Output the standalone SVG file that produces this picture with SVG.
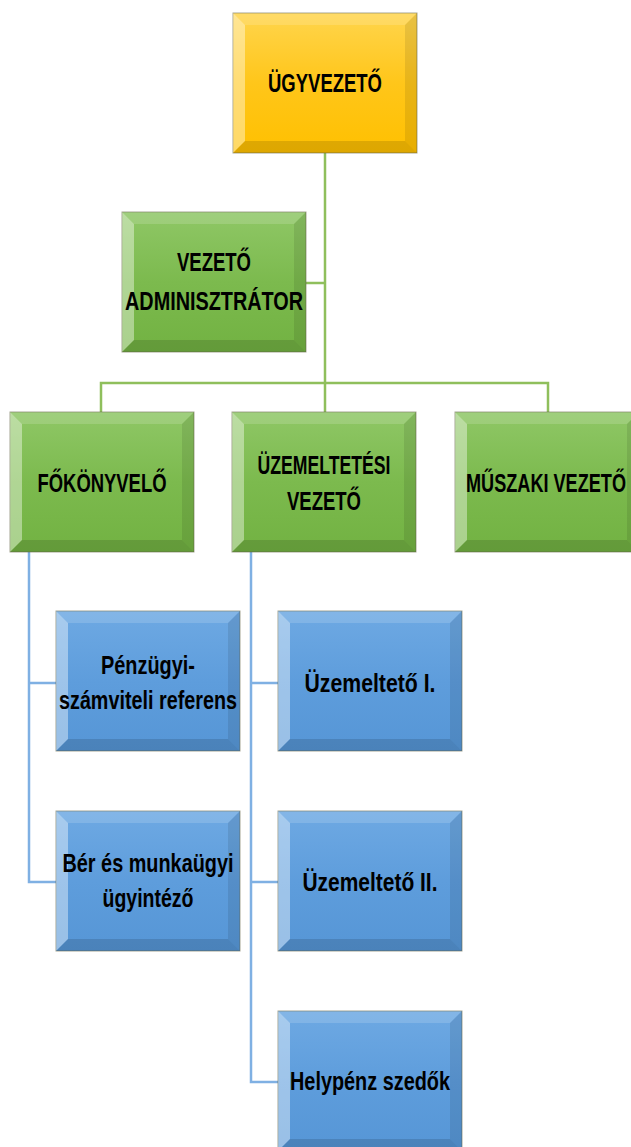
<svg xmlns="http://www.w3.org/2000/svg" xmlns:xlink="http://www.w3.org/1999/xlink" width="631" height="1147" viewBox="0 0 631 1147">
<style>
.t{font-family:"Liberation Sans Narrow","Liberation Sans",Arial,sans-serif;font-weight:bold;font-size:26px;fill:#000;text-anchor:middle}
.edge{fill:none;stroke-width:2.5}
.g{stroke:#8fbf5c}
.b{stroke:#7fb0e3}
.box{stroke:#6b6b4f;stroke-width:1;stroke-opacity:.6}
.y{fill:url(#gy)}
.gr{fill:url(#gg)}
.bl{fill:url(#gb)}
</style>
<defs>
<linearGradient id="gy" x1="0" y1="0" x2="0" y2="1"><stop offset="0" stop-color="#ffd54d"/><stop offset="0.5" stop-color="#ffc61a"/><stop offset="1" stop-color="#ffc000"/></linearGradient>
<linearGradient id="gg" x1="0" y1="0" x2="0" y2="1"><stop offset="0" stop-color="#8fc766"/><stop offset="0.5" stop-color="#7cba4e"/><stop offset="1" stop-color="#72b242"/></linearGradient>
<linearGradient id="gb" x1="0" y1="0" x2="0" y2="1"><stop offset="0" stop-color="#6ea9e3"/><stop offset="0.5" stop-color="#5e9ddc"/><stop offset="1" stop-color="#5696d6"/></linearGradient>
<g id="bevel">
<polygon points="0,0 184,0 172,12 12,12" fill="#fff" fill-opacity="0.15"/>
<polygon points="0,0 12,12 12,128 0,140" fill="#fff" fill-opacity="0.4"/>
<polygon points="184,0 184,140 172,128 172,12" fill="#000" fill-opacity="0.09"/>
<polygon points="0,140 12,128 172,128 184,140" fill="#000" fill-opacity="0.13"/>
</g>
</defs>
<rect width="631" height="1147" fill="#fff"/>
<g id="connectors">
<path class="edge g" d="M325 152V383M305 283H325M101 412V383H548V412M325 383V412"/>
<path class="edge b" d="M29 552V882H57M29 683H57M251 552V1082H279M251 683H279M251 882H279"/>
</g>
<g id="n-ugyvezeto" transform="translate(233,13)">
<rect class="box y" width="184" height="140"/><use xlink:href="#bevel"/>
<text class="t" x="92" y="79" textLength="114" lengthAdjust="spacingAndGlyphs">ÜGYVEZETŐ</text>
</g>
<g id="n-admin" transform="translate(122,212)">
<rect class="box gr" width="184" height="140"/><use xlink:href="#bevel"/>
<text class="t" x="92" y="59" textLength="74" lengthAdjust="spacingAndGlyphs">VEZETŐ</text>
<text class="t" x="92" y="98" textLength="178" lengthAdjust="spacingAndGlyphs">ADMINISZTRÁTOR</text>
</g>
<g id="n-fokonyvelo" transform="translate(10,412)">
<rect class="box gr" width="184" height="140"/><use xlink:href="#bevel"/>
<text class="t" x="92" y="80" textLength="129" lengthAdjust="spacingAndGlyphs">FŐKÖNYVELŐ</text>
</g>
<g id="n-uzemeltetesi" transform="translate(232,412)">
<rect class="box gr" width="184" height="140"/><use xlink:href="#bevel"/>
<text class="t" x="92" y="62" textLength="133" lengthAdjust="spacingAndGlyphs">ÜZEMELTETÉSI</text>
<text class="t" x="92" y="98" textLength="74" lengthAdjust="spacingAndGlyphs">VEZETŐ</text>
</g>
<g id="n-muszaki" transform="translate(455,412)">
<rect class="box gr" width="184" height="140"/><use xlink:href="#bevel"/>
<text class="t" x="91" y="80" textLength="160" lengthAdjust="spacingAndGlyphs">MŰSZAKI VEZETŐ</text>
</g>
<g id="n-penzugyi" transform="translate(56,611)">
<rect class="box bl" width="184" height="140"/><use xlink:href="#bevel"/>
<text class="t" x="92" y="63" textLength="94" lengthAdjust="spacingAndGlyphs">Pénzügyi-</text>
<text class="t" x="92" y="98" textLength="178" lengthAdjust="spacingAndGlyphs">számviteli referens</text>
</g>
<g id="n-ber" transform="translate(56,811)">
<rect class="box bl" width="184" height="140"/><use xlink:href="#bevel"/>
<text class="t" x="92" y="61" textLength="171" lengthAdjust="spacingAndGlyphs">Bér és munkaügyi</text>
<text class="t" x="92" y="96" textLength="91" lengthAdjust="spacingAndGlyphs">ügyintéző</text>
</g>
<g id="n-uzem1" transform="translate(278,611)">
<rect class="box bl" width="184" height="140"/><use xlink:href="#bevel"/>
<text class="t" x="92" y="81" textLength="131" lengthAdjust="spacingAndGlyphs">Üzemeltető I.</text>
</g>
<g id="n-uzem2" transform="translate(278,811)">
<rect class="box bl" width="184" height="140"/><use xlink:href="#bevel"/>
<text class="t" x="92" y="80" textLength="135" lengthAdjust="spacingAndGlyphs">Üzemeltető II.</text>
</g>
<g id="n-helypenz" transform="translate(278,1011)">
<rect class="box bl" width="184" height="140"/><use xlink:href="#bevel"/>
<text class="t" x="92" y="79" textLength="160" lengthAdjust="spacingAndGlyphs">Helypénz szedők</text>
</g>
</svg>
